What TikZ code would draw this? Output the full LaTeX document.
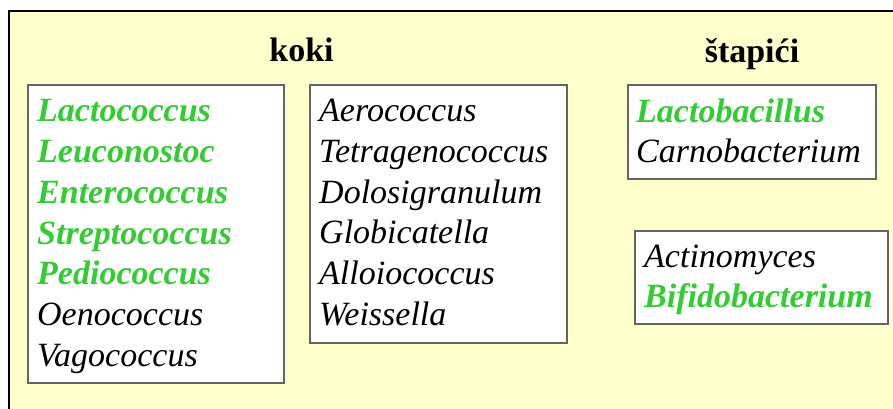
\documentclass[tikz,border=0pt]{standalone}
\usepackage{fontspec}
\setmainfont{LiberationSerif}[Extension=.ttf, UprightFont=*-Regular, ItalicFont=*-Italic, BoldFont=*-Bold, BoldItalicFont=*-BoldItalic]
\usetikzlibrary{positioning}

\definecolor{paleyellow}{RGB}{255,255,204}
\definecolor{labgreen}{RGB}{51,204,51}
\definecolor{framegray}{RGB}{100,100,100}

\tikzset{
  genbox/.style={draw=framegray, line width=1.5pt, fill=white, anchor=north west, inner sep=0pt},
  genlist/.style={align=left, inner sep=0pt, font=\fontsize{34}{40.7}\selectfont\itshape},
  heading/.style={anchor=base, inner sep=0pt, font=\fontsize{34}{40}\selectfont\bfseries}
}
\newcommand{\lab}[1]{\textcolor{labgreen}{\textbf{#1}}}

\begin{document}
\begin{tikzpicture}[x=1pt, y=-1pt]
      \useasboundingbox (0,0) rectangle (893,408);
      \fill[white] (0,0) rectangle (893,408);
      \draw[fill=paleyellow, line width=2pt] (9,11) rectangle (905,420);
      % headings
      \node (koki) [heading] at (301.5,61.7) {koki};
      \node (stapici) [heading] at (752,62) {štapići};
      % koki
      \node (box1) [genbox, minimum width=256pt, minimum height=298pt] at (27,84) {};
      \node (list1) [genlist, below right=15.5pt and 10pt of box1.north west]
        {\lab{Lactococcus}\\ \lab{Leuconostoc}\\ \lab{Enterococcus}\\ \lab{Streptococcus}\\
         \lab{Pediococcus}\\ Oenococcus\\ Vagococcus};
      \node (box2) [genbox, minimum width=257pt, minimum height=258pt] at (309,84) {};
      \node (list2) [genlist, below right=15pt and 10pt of box2.north west]
        {Aerococcus\\ Tetragenococcus\\ Dolosigranulum\\ Globicatella\\ Alloiococcus\\ Weissella};
      % stapici
      \node (box3) [genbox, minimum width=248pt, minimum height=94pt] at (627,84) {};
      \node (list3) [genlist, below right=14.5pt and 9pt of box3.north west]
        {\lab{Lactobacillus}\\ Carnobacterium};
      \node (box4) [genbox, minimum width=253pt, minimum height=93pt] at (634,230) {};
      \node (list4) [genlist, below right=14.5pt and 10pt of box4.north west]
        {Actinomyces\\ \lab{Bifidobacterium}};
\end{tikzpicture}
\end{document}
